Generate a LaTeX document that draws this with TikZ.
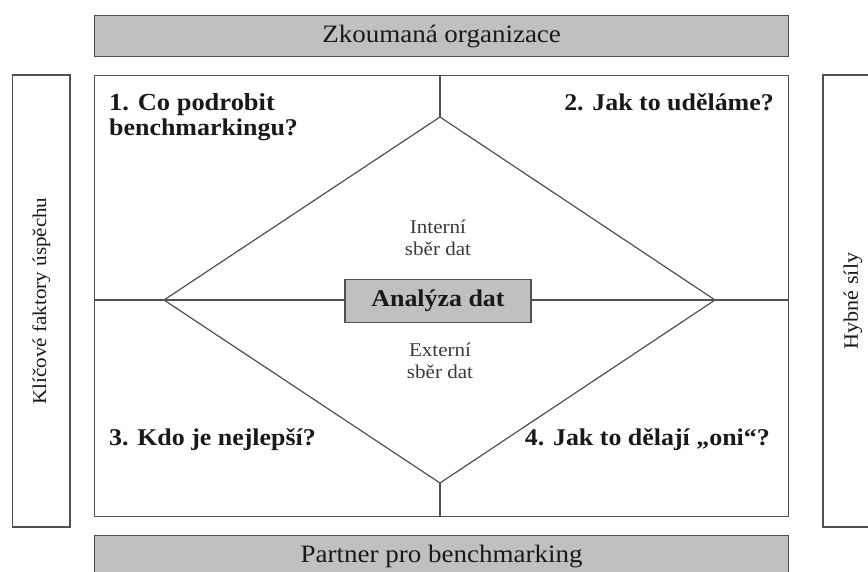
\documentclass[tikz,border=0pt]{standalone}
\usepackage{fontspec}
\setmainfont{Liberation Serif}[FakeStretch=1.08]
\definecolor{lncol}{RGB}{80,80,80}
\definecolor{boxfill}{RGB}{192,192,192}
\definecolor{txtcol}{RGB}{25,25,25}
\begin{document}
\begin{tikzpicture}[x=1pt,y=-1pt,
  ln/.style={draw=lncol, line width=1.2pt},
  graybox/.style={draw=lncol, line width=1.2pt, fill=boxfill, inner sep=0pt},
  plainbox/.style={draw=lncol, line width=1.2pt, inner sep=0pt},
  qlab/.style={font=\fontsize{24}{25}\selectfont\bfseries, inner sep=0pt, text=txtcol},
  smalltxt/.style={font=\fontsize{19.5}{22}\selectfont, align=center, inner sep=0pt, text=txtcol!85},
  graytxt/.style={font=\fontsize{25}{26}\selectfont, text=txtcol},
  sidetxt/.style={font=\fontsize{19.5}{22}\selectfont, text=txtcol}]
\clip (0,0) rectangle (868,571);
\fill[white] (0,0) rectangle (868,571);
% top and bottom gray boxes
\node[graybox, graytxt, minimum width=694, minimum height=41, anchor=north west] (top) at (94,15) {Zkoumaná organizace};
\node[graybox, graytxt, minimum width=694, minimum height=42, anchor=north west] (bot) at (94,535) {\raisebox{-4pt}{Partner pro benchmarking}};
% side boxes
\node[plainbox, sidetxt, rotate=90, minimum width=452, minimum height=57.5] (left) at (41.3,301) {Klíčové faktory úspěchu};
\node[plainbox, sidetxt, rotate=90, minimum width=452, minimum height=60] (right) at (853,301) {\fontsize{20.5}{22}\selectfont Hybné síly};
% main box
\node[plainbox, minimum width=694, minimum height=441, anchor=north west] (main) at (94,75) {};
% diamond
\coordinate (dt) at (440,117);
\coordinate (dl) at (164,300);
\coordinate (dr) at (715,300);
\coordinate (db) at (440,483);
\draw[ln, line join=miter] (dt) -- (dr) -- (db) -- (dl) -- cycle;
\draw[ln] (dt |- main.north) -- (dt);
\draw[ln] (db) -- (db |- main.south);
% analysis box
\node[graybox, minimum width=186, minimum height=43, font=\fontsize{24}{26}\selectfont\bfseries, text=txtcol] (ana) at (438,301) {Analýza dat};
\draw[ln] (main.west |- dl) -- (ana.west |- dl);
\draw[ln] (ana.east |- dr) -- (main.east |- dr);
% texts
\node[smalltxt, anchor=base] (int) at (438,255) {Interní\\sběr dat};
\node[smalltxt, anchor=base] (ext) at (440,378) {Externí\\sběr dat};
\node[qlab, anchor=base west, align=left] (q1) at (109,135) {\fontsize{24.5}{25}\selectfont 1. Co podrobit\\benchmarkingu?};
\node[qlab, anchor=base east] (q2) at (774,110) {2. Jak to uděláme?};
\node[qlab, anchor=base west] (q3) at (109,445) {3. Kdo je nejlepší?};
\node[qlab, anchor=base east] (q4) at (770,445) {4. Jak to dělají „oni“?};
\end{tikzpicture}
\end{document}
